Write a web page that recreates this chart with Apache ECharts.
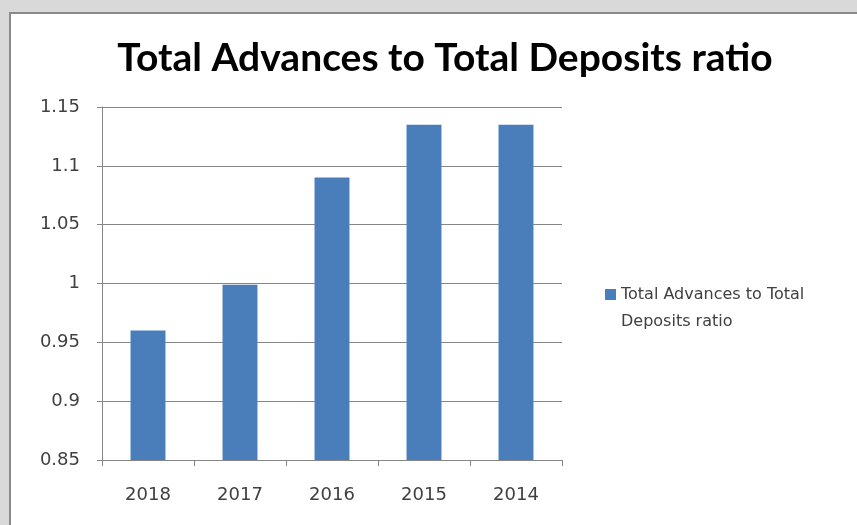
<!DOCTYPE html>
<html>
<head>
<meta charset="utf-8">
<script src="https://cdn.jsdelivr.net/npm/echarts@6/dist/echarts.min.js"></script>
<style>
html,body{margin:0;padding:0;width:857px;height:525px;overflow:hidden;background:#d9d9d9;}
#frame{position:absolute;left:9px;top:12px;width:848px;height:513px;background:#fff;border-left:2px solid #8a8a8a;border-top:2px solid #8a8a8a;box-sizing:border-box;}
#chart{position:absolute;left:0;top:0;width:857px;height:525px;}
</style>
</head>
<body>
<div id="frame"></div>
<div id="chart"></div>
<script>
const titleText = 'Total Advances to Total Deposits ratio';
const seriesName = 'Total Advances to Total Deposits ratio';
const legendLines = ['Total Advances to Total', 'Deposits ratio'];
const categories = ['2018', '2017', '2016', '2015', '2014'];
const values = [0.96, 0.999, 1.09, 1.135, 1.135];
const yMin = 0.85, yMax = 1.15, yStep = 0.05;

const chart = echarts.init(document.getElementById('chart'), null, {renderer: 'canvas'});
chart.setOption({
  backgroundColor: 'transparent',
  animation: false,
  title: {
    text: titleText,
    left: 440, top: 34, textAlign: 'center',
    textStyle: {fontFamily: 'Lato', fontWeight: 'bold', fontSize: 39, color: '#000'}
  },
  legend: {
    left: 600, top: 276,
    orient: 'vertical',
    icon: 'path://M0,0H11V11H0Z M0,38H0.001V38.001H0Z',
    itemWidth: 11, itemHeight: 38, itemGap: 6,
    formatter: () => legendLines.join('\n'),
    textStyle: {fontFamily: 'DejaVu Sans', fontSize: 16, color: '#404040', lineHeight: 27}
  },
  grid: {left: 102, right: 295, top: 107, bottom: 65, containLabel: false},
  xAxis: {
    type: 'category', data: categories,
    axisLine: {lineStyle: {color: '#868686', width: 1}},
    axisTick: {show: true, length: 6, lineStyle: {color: '#868686'}},
    axisLabel: {fontFamily: 'DejaVu Sans', fontSize: 18, color: '#404040', margin: 26}
  },
  yAxis: {
    type: 'value', min: yMin, max: yMax, interval: yStep,
    axisLine: {show: true, lineStyle: {color: '#868686', width: 1}},
    axisTick: {show: true, length: 5, lineStyle: {color: '#868686'}},
    splitLine: {lineStyle: {color: '#868686', width: 1}},
    axisLabel: {fontFamily: 'DejaVu Sans', fontSize: 18, color: '#404040', margin: 22,
      formatter: v => String(parseFloat(v.toFixed(2)))}
  },
  series: [{
    name: seriesName, type: 'bar', data: values,
    barWidth: '38%',
    itemStyle: {color: '#4a7ebb'}
  }]
});
</script>
</body>
</html>
